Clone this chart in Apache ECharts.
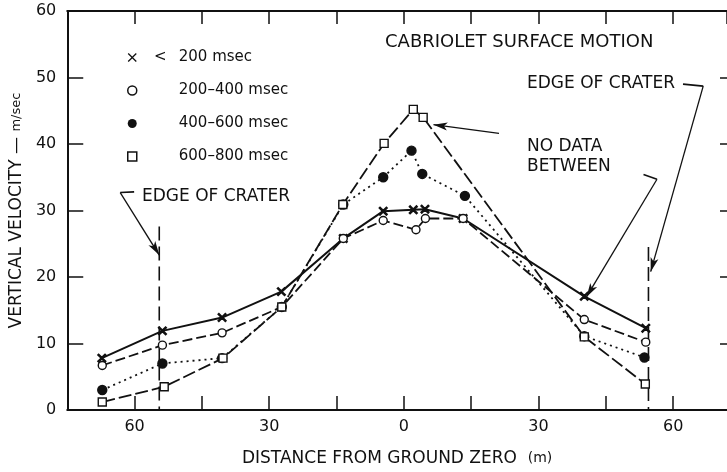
<!DOCTYPE html>
<html>
<head>
<meta charset="utf-8">
<script src="https://cdn.jsdelivr.net/npm/echarts@6/dist/echarts.min.js"></script>
<style>
  html, body { margin: 0; padding: 0; background: #fff; }
  #chart { width: 727px; height: 472px; }
</style>
</head>
<body>
<div id="chart"></div>
<script>
// Cabriolet surface motion: peak vertical velocity vs. distance from ground zero,
// grouped by arrival time window.
const seriesNames = ['< 200 msec', '200–400 msec', '400–600 msec', '600–800 msec'];

// [distance (m, negative = left of ground zero), velocity (m/sec)]
const under200 = [[-67.3, 7.8], [-53.8, 11.9], [-40.5, 13.9], [-27.3, 17.8], [-13.5, 25.8],
  [-4.6, 29.9], [2.1, 30.1], [4.7, 30.2], [13.2, 28.8], [40.2, 17.1], [53.9, 12.3]];
const from200to400 = [[-67.2, 6.7], [-53.8, 9.75], [-40.5, 11.6], [-27.2, 15.5], [-13.5, 25.8],
  [-4.6, 28.5], [2.7, 27.1], [4.8, 28.8], [13.2, 28.8], [40.2, 13.6], [53.9, 10.2]];
const from400to600 = [[-67.2, 3.0], [-53.8, 7.0], [-40.5, 7.8], [-27.2, 15.5], [-13.5, 30.9],
  [-4.6, 35.0], [1.7, 39.0], [4.1, 35.5], [13.6, 32.2], [40.2, 11.1], [53.6, 7.9]];
const from600to800 = [[-67.2, 1.2], [-53.4, 3.5], [-40.3, 7.8], [-27.2, 15.5], [-13.6, 30.9],
  [-4.4, 40.1], [2.1, 45.2], [4.3, 44.0], [40.2, 11.0], [53.8, 3.9]];

// Tick labels shown on the distance axis (distance is unsigned on both sides)
const xTickLabels = [-60, -30, 0, 30, 60];
const yTicks = [0, 10, 20, 30, 40, 50, 60];

// Crater edges and annotation leaders, in data units
const craterLeft = [[-54.5, 27.6], [-54.5, 0]];
const craterRight = [[54.5, 24.5], [54.5, 0]];
const leaderCraterLeft = [[-60.1, 32.8], [-63.2, 32.7]];
const arrowCraterLeft = [[-63.2, 32.7], [-54.5, 23.3]];
const leaderCraterRight = [[62.2, 49.0], [66.7, 48.7]];
const arrowCraterRight = [[66.7, 48.7], [55.0, 20.8]];
const arrowNoData1 = [[21.2, 41.6], [6.6, 42.9]];
const leaderNoData2 = [[53.4, 35.4], [56.4, 34.7]];
const arrowNoData2 = [[56.4, 34.7], [40.7, 17.0]];

const INK = '#111';
const FONT = 'DejaVu Sans';
const crossPath = 'path://M0,1L1,0L5,4L9,0L10,1L6,5L10,9L9,10L5,6L1,10L0,9L4,5Z';

const chart = echarts.init(document.getElementById('chart'), null, { renderer: 'canvas' });

function dataSeries(name, data, symbol, size, fill, dash, width) {
  return {
    name, type: 'line', data, symbol, symbolSize: size, showAllSymbol: true,
    lineStyle: { color: INK, width, type: dash },
    itemStyle: { color: fill, borderColor: INK, borderWidth: 1.4 },
    emphasis: { disabled: true }, animation: false, z: 3
  };
}

function arrowLine(seg) {
  return [{ coord: seg[0] }, { coord: seg[1] }];
}

function guideSeries(data, dash, arrows) {
  return {
    type: 'line', data, symbol: 'none', silent: true, animation: false,
    lineStyle: { color: INK, width: 1.6, type: dash },
    markLine: arrows ? {
      silent: true, animation: false,
      symbol: ['none', 'arrow'], symbolSize: [6, 14],
      label: { show: false },
      lineStyle: { color: INK, width: 1.3, type: 'solid' },
      data: arrows.map(arrowLine)
    } : undefined,
    z: 2
  };
}

const axisInk = { show: true, onZero: false, lineStyle: { color: INK, width: 2 } };

const option = {
  backgroundColor: '#fff',
  animation: false,
  grid: { left: 65, right: 0, top: 11, bottom: 57 },
  xAxis: [{
    type: 'value', min: -75, max: 72, interval: 15,
    axisLine: axisInk,
    axisTick: { show: true, inside: true, length: 14, lineStyle: { color: INK, width: 1.5 } },
    splitLine: { show: false },
    axisLabel: {
      color: INK, fontFamily: FONT, fontSize: 16, margin: 9,
      showMinLabel: false, showMaxLabel: false,
      formatter: v => xTickLabels.includes(v) ? String(Math.abs(v)) : ''
    },
    name: '{a|DISTANCE FROM GROUND ZERO  }{b|(m)}', nameLocation: 'middle', nameGap: 40,
    nameTextStyle: {
      rich: {
        a: { color: INK, fontFamily: FONT, fontSize: 17 },
        b: { color: INK, fontFamily: FONT, fontSize: 14 }
      }
    }
  }, {
    type: 'value', position: 'top', min: -75, max: 72, interval: 15,
    axisLine: axisInk,
    axisTick: { show: true, inside: true, length: 13, lineStyle: { color: INK, width: 1.5 } },
    axisLabel: { show: false }, splitLine: { show: false }
  }],
  yAxis: [{
    type: 'value', min: 0, max: 60, interval: 10,
    axisLine: axisInk,
    axisTick: { show: true, inside: true, length: 16, lineStyle: { color: INK, width: 1.5 } },
    splitLine: { show: false },
    axisLabel: {
      color: INK, fontFamily: FONT, fontSize: 16, margin: 11,
      formatter: v => yTicks.includes(v) ? String(v) : ''
    },
    name: '{a|VERTICAL VELOCITY — }{b|m/sec}', nameLocation: 'middle', nameGap: 28,
    nameTextStyle: {
      rich: {
        a: { color: INK, fontFamily: FONT, fontSize: 17 },
        b: { color: INK, fontFamily: FONT, fontSize: 13 }
      }
    }
  }, {
    type: 'value', position: 'right', min: 0, max: 60, interval: 10,
    axisLine: { show: false, onZero: false },
    axisTick: { show: true, inside: true, length: 7, lineStyle: { color: INK, width: 1.5 } },
    axisLabel: { show: false }, splitLine: { show: false }
  }],
  legend: {
    orient: 'vertical', left: 122, top: 44,
    itemWidth: 9, itemHeight: 9, itemGap: 16,
    selectedMode: false,
    textStyle: {
      color: INK, fontFamily: FONT, fontSize: 15, lineHeight: 17,
      rich: {
        lt: { width: 37, align: 'center', fontFamily: FONT, fontSize: 15, color: INK },
        sp: { width: 37 },
        t: { fontFamily: FONT, fontSize: 15, color: INK }
      }
    },
    formatter: name => name.startsWith('<')
      ? '{lt|<}{t|' + name.slice(2) + '}'
      : '{sp| }{t|' + name + '}',
    data: [
      { name: seriesNames[0], icon: crossPath, itemStyle: { color: INK, borderWidth: 0 } },
      { name: seriesNames[1], icon: 'circle', itemStyle: { color: '#fff', borderColor: INK, borderWidth: 1.5 } },
      { name: seriesNames[2], icon: 'circle', itemStyle: { color: INK, borderColor: INK, borderWidth: 0 } },
      { name: seriesNames[3], icon: 'rect', itemStyle: { color: '#fff', borderColor: INK, borderWidth: 1.5 } }
    ]
  },
  graphic: [
    { type: 'text', left: 385, top: 33, style: { text: 'CABRIOLET SURFACE MOTION', fill: INK, font: '18px "DejaVu Sans"' } },
    { type: 'text', left: 527, top: 75, style: { text: 'EDGE OF CRATER', fill: INK, font: '17px "DejaVu Sans"' } },
    { type: 'text', left: 527, top: 137, style: { text: 'NO DATA\nBETWEEN', fill: INK, font: '17px "DejaVu Sans"', lineHeight: 20 } },
    { type: 'text', left: 142, top: 188, style: { text: 'EDGE OF CRATER', fill: INK, font: '17px "DejaVu Sans"' } }
  ],
  series: [
    dataSeries(seriesNames[0], under200, crossPath, 8, INK, 'solid', 2),
    dataSeries(seriesNames[1], from200to400, 'circle', 8, '#fff', [10, 4], 1.8),
    dataSeries(seriesNames[2], from400to600, 'circle', 9, INK, [2, 4], 1.8),
    dataSeries(seriesNames[3], from600to800, 'rect', 8, '#fff', [13, 4], 1.8),
    guideSeries(craterLeft, [14, 6], [arrowCraterLeft]),
    guideSeries(craterRight, [14, 6], [arrowCraterRight, arrowNoData1, arrowNoData2]),
    guideSeries(leaderCraterLeft, 'solid', null),
    guideSeries(leaderCraterRight, 'solid', null),
    guideSeries(leaderNoData2, 'solid', null)
  ]
};

chart.setOption(option);
</script>
</body>
</html>
